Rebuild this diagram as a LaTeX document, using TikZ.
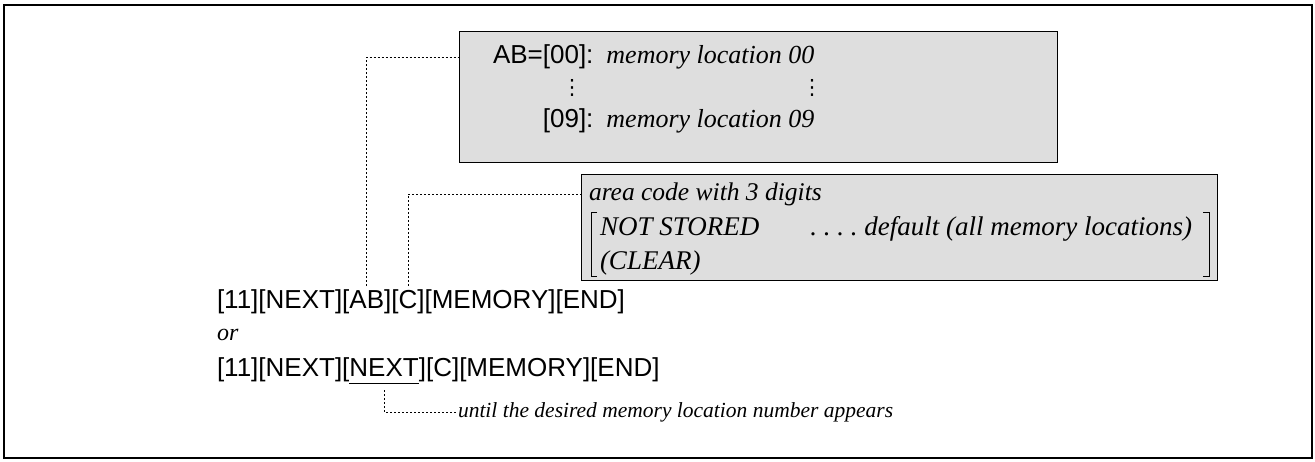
\documentclass[tikz,border=0pt]{standalone}
\usepackage{fontspec}
\setmainfont{Liberation Serif}
\setsansfont{Liberation Sans}
\newfontfamily\dejavu{DejaVu Sans}
\newcommand{\sz}[1]{\fontsize{#1}{#1}\selectfont}
\begin{document}
\begin{tikzpicture}[x=1pt,y=-1pt,
  keytext/.style={font=\sffamily\sz{26}, inner sep=0pt, outer sep=0pt},
  ittext/.style={font=\itshape\sz{26}, inner sep=0pt, outer sep=0pt},
  boxit/.style={font=\itshape\sz{27}, inner sep=0pt, outer sep=0pt},
  smallit/.style={font=\itshape\sz{21.5}, inner sep=0pt, outer sep=0pt},
  vdot/.style={font=\dejavu\sz{21}, inner sep=0pt, outer sep=0pt},
  shaded/.style={draw=black, line width=1.2pt, fill=black!13, inner sep=0pt},
  dotline/.style={line width=0.9pt, dash pattern=on 2pt off 2pt},
  brack/.style={line width=1pt},
]
\useasboundingbox (0,0) rectangle (1315,461);
\draw[line width=1.4pt] (4,5) rectangle (1312,458);

% box 1
\node[shaded, anchor=north west, minimum width=598pt, minimum height=131pt] (box1) at (459,31) {};
\node[keytext, anchor=base west] (ab0) at (493,63) {AB=[00]:};
\node[ittext, anchor=base west] (m0) at ([xshift=13pt]ab0.base east) {memory location 00};
\node[keytext, anchor=base east] (ab9) at (ab0.base east |- 0,127) {[09]:};
\node[ittext, anchor=base west] (m9) at (m0.base west |- 0,127) {memory location 09};
\node[vdot] (d1) at (572,88) {⋮};
\node[vdot] (d2) at (812,88) {⋮};

% box 2
\node[shaded, anchor=north west, minimum width=636pt, minimum height=106pt] (box2) at (581,174) {};
\node[boxit, font=\itshape\sz{25.5}, anchor=base west] (ac) at (589,200) {area code with 3 digits};
\node[boxit, anchor=base west] (ns) at (600,235) {NOT STORED};
\node[boxit, anchor=base east] (df) at (1192,235) {.\ .\ .\ .\ default (all memory locations)};
\node[boxit, anchor=base west] (cl) at (600,269) {(CLEAR)};
\draw[brack] (597,212) -- (591,212) -- (591,276) -- (597,276);
\draw[brack] (1203,212) -- (1209,212) -- (1209,276) -- (1203,276);

% line 1
\node[keytext, anchor=base west] (a1) at (217,308) {[11][NEXT][};
\node[keytext, anchor=base west] (ab) at (a1.base east) {AB};
\node[keytext, anchor=base west] (a2) at (ab.base east) {][};
\node[keytext, anchor=base west] (c) at (a2.base east) {C};
\node[keytext, anchor=base west] (a3) at (c.base east) {][MEMORY][END]};

\node[ittext, font=\itshape\sz{24}, anchor=base west] (or) at (217,340) {or};

% line 3
\node[keytext, anchor=base west] (b1) at (217,376) {[11][NEXT][};
\node[keytext, anchor=base west] (nx) at (b1.base east) {NEXT};
\node[keytext, anchor=base west] (b2) at (nx.base east) {][C][MEMORY][END]};
\draw[line width=1pt] ([yshift=-7pt]nx.base west) -- ([yshift=-7pt]nx.base east);

\node[smallit, anchor=west] (until) at (458,412) {until the desired memory location number appears};

% connectors
\coordinate (k1) at (459,57);
\coordinate (k2) at (581,194);
\draw[dotline] ([yshift=4pt]ab.north) |- (k1);
\draw[dotline] ([yshift=4pt]c.north) |- (k2);
\draw[dotline] ([yshift=-14pt]nx.base) |- (until.west);
\end{tikzpicture}
\end{document}
